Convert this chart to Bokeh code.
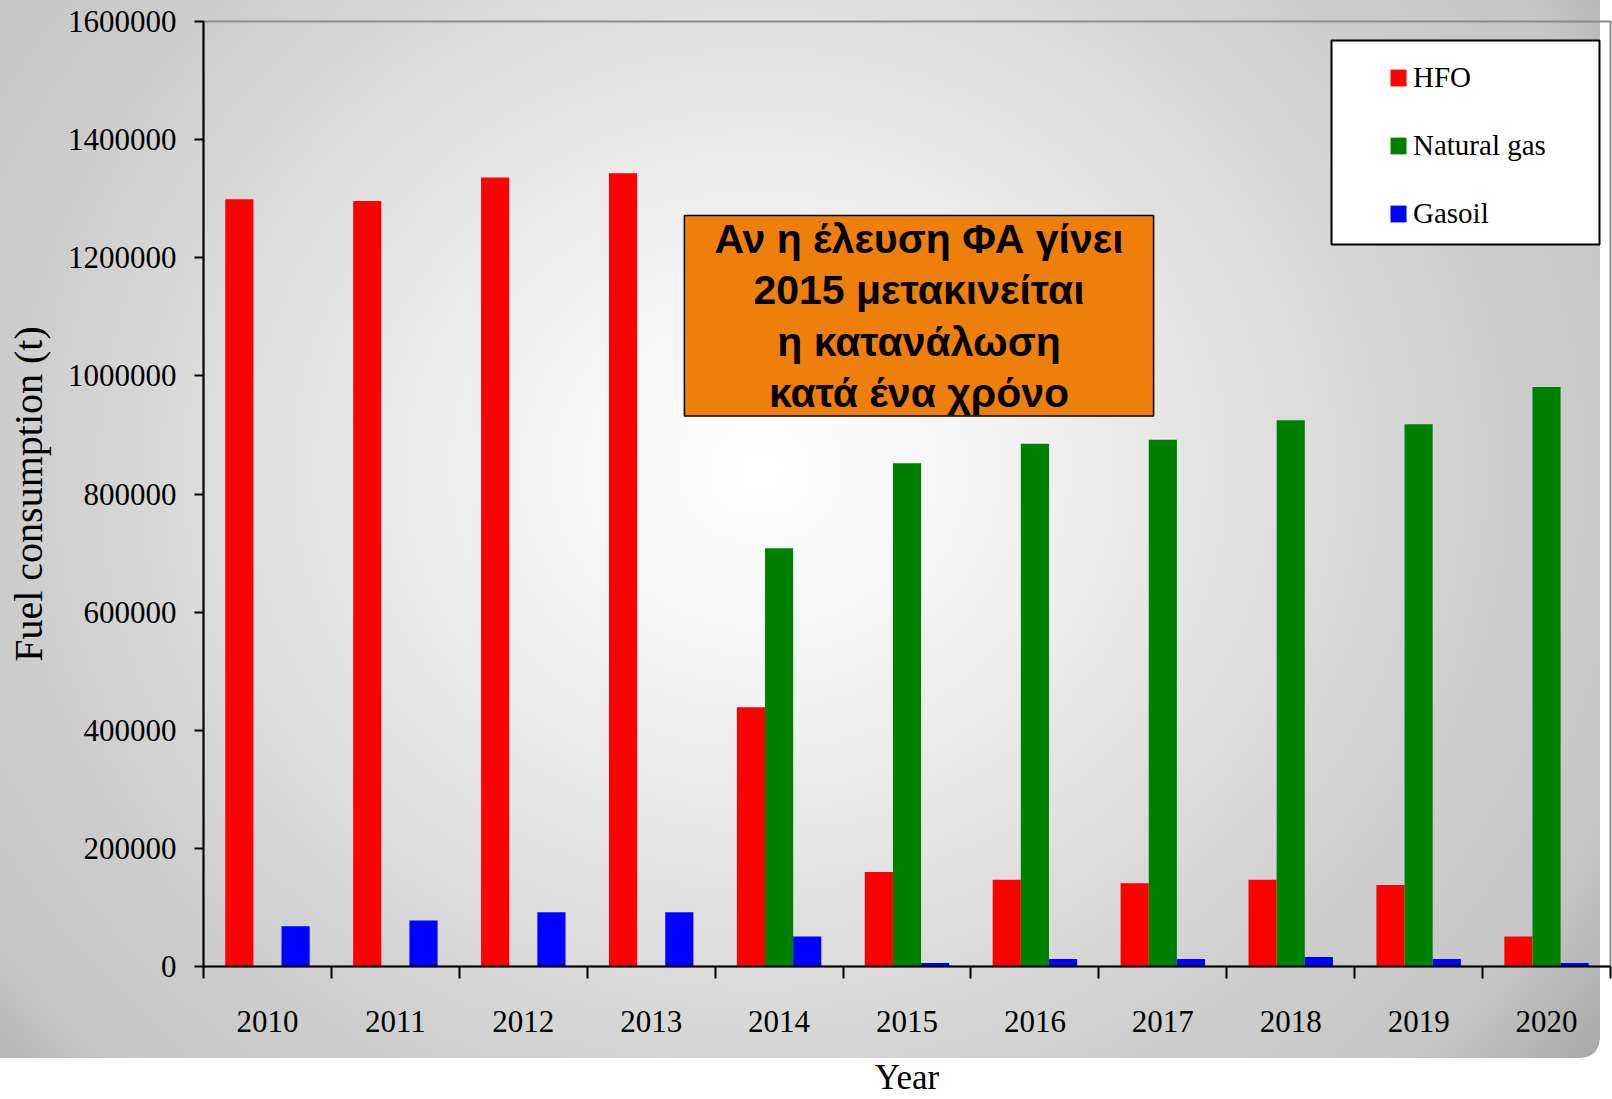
import numpy as np
from bokeh.plotting import figure
from bokeh.models import (ColumnDataSource, FixedTicker, Legend, LegendItem, Label,
                          BoxAnnotation, Range1d, BasicTickFormatter)
from bokeh.transform import dodge
from bokeh.embed import file_html
from bokeh.resources import INLINE

# ---- data ----
years = ["2010", "2011", "2012", "2013", "2014", "2015", "2016", "2017", "2018", "2019", "2020"]
hfo = [1299000, 1296000, 1336000, 1343000, 439000, 160000, 147000, 141000, 147000, 138000, 51000]
natural_gas = [0, 0, 0, 0, 708000, 852000, 885000, 892000, 925000, 918000, 981000]
gasoil = [68000, 78000, 92000, 92000, 51000, 6000, 12500, 12500, 16000, 12500, 6000]
y_ticks = [0, 200000, 400000, 600000, 800000, 1000000, 1200000, 1400000, 1600000]
series_names = ["HFO", "Natural gas", "Gasoil"]
x_title = "Year"
y_title = "Fuel consumption (t)"
note_text = "Αν η έλευση ΦΑ γίνει\n2015 μετακινείται\nη κατανάλωση\nκατά ένα χρόνο"

x = np.arange(len(years)) + 0.5
src = ColumnDataSource(dict(x=x, hfo=hfo, gas=natural_gas, gasoil=gasoil))

W, H = 1612, 1099
p = figure(width=W, height=H, output_backend="svg", toolbar_location=None,
           x_range=Range1d(0, len(years)), y_range=Range1d(0, y_ticks[-1]),
           min_border_left=203, min_border_right=2, min_border_top=21, min_border_bottom=133,
           border_fill_color=None, background_fill_color=None,
           outline_line_color="#8c8c8c", outline_line_width=2)

p.styles = {
    "background-color": "#ffffff",
    "background-image": ("radial-gradient(circle at 0px 0px, rgba(255,255,255,0) 17px, #ffffff 18px), "
                         "radial-gradient(ellipse 1000px 900px at 760px 470px, #ffffff 0%, #f2f2f2 25%, "
                         "#e0e0e0 50%, #cdcdcd 75%, #c6c6c6 92%, #b6b6b6 100%, #a8a8a8 106%)"),
    "background-size": "18px 18px, 1600px 1058px",
    "background-position": "1582px 1040px, 0px 0px",
    "background-repeat": "no-repeat, no-repeat",
}

p.xgrid.visible = False
p.ygrid.visible = False

bw = 0.22
r_h = p.vbar(x=dodge("x", -bw, range=p.x_range), top="hfo", width=bw, source=src,
             fill_color="#ff0000", line_color=None)
r_g = p.vbar(x=dodge("x", 0.0, range=p.x_range), top="gas", width=bw, source=src,
             fill_color="#008000", line_color=None)
r_b = p.vbar(x=dodge("x", bw, range=p.x_range), top="gasoil", width=bw, source=src,
             fill_color="#0000ff", line_color=None)

# x axis: labels at category centres, ticks at category boundaries
xa = p.xaxis[0]
xa.ticker = FixedTicker(ticks=list(x), minor_ticks=list(range(len(years) + 1)))
xa.major_label_overrides = {float(v): yr for v, yr in zip(x, years)}
xa.major_tick_line_color = None
xa.major_tick_out = 12
xa.major_tick_in = 0
xa.minor_tick_line_color = "black"
xa.minor_tick_line_width = 2
xa.minor_tick_out = 12
xa.minor_tick_in = 0
xa.axis_line_color = "black"
xa.axis_line_width = 2
xa.major_label_standoff = 32
xa.major_label_text_font = "Liberation Serif"
xa.major_label_text_font_size = "31px"
xa.major_label_text_color = "black"
xa.axis_label = x_title
xa.axis_label_text_font = "Liberation Serif"
xa.axis_label_text_font_style = "normal"
xa.axis_label_text_font_size = "35px"
xa.axis_label_text_color = "black"
xa.axis_label_standoff = 23

ya = p.yaxis[0]
ya.ticker = FixedTicker(ticks=y_ticks)
ya.formatter = BasicTickFormatter(use_scientific=False)
ya.major_tick_out = 9
ya.major_tick_in = 0
ya.major_tick_line_width = 2
ya.major_tick_line_color = "black"
ya.minor_tick_line_color = None
ya.axis_line_color = "black"
ya.axis_line_width = 2
ya.major_label_standoff = 18
ya.major_label_text_font = "Liberation Serif"
ya.major_label_text_font_size = "31px"
ya.major_label_text_color = "black"
ya.axis_label = y_title
ya.axis_label_text_font = "Liberation Serif"
ya.axis_label_text_font_style = "normal"
ya.axis_label_text_font_size = "40px"
ya.axis_label_text_color = "black"
ya.axis_label_standoff = 14

# legend box
box = BoxAnnotation(left=1128, right=1396, bottom=722, top=926,
                    left_units="screen", right_units="screen",
                    top_units="screen", bottom_units="screen",
                    fill_color="#ffffff", fill_alpha=1.0,
                    line_color="black", line_width=2, line_alpha=1.0)
p.add_layout(box)

legend = Legend(items=[LegendItem(label=series_names[0], renderers=[r_h]),
                       LegendItem(label=series_names[1], renderers=[r_g]),
                       LegendItem(label=series_names[2], renderers=[r_b])],
                location=(1185, 733), border_line_color=None, background_fill_alpha=0,
                padding=10, spacing=28, glyph_width=20, glyph_height=21, label_height=40,
                label_standoff=5, label_text_font="Liberation Serif",
                label_text_font_size="29px", label_text_color="black", margin=0)
p.add_layout(legend)

note = Label(x=715.5, y=650.7, x_units="screen", y_units="screen", text=note_text,
             text_align="center", text_baseline="middle",
             text_font="Liberation Sans", text_font_style="bold", text_font_size="41px",
             text_color="black", text_line_height=1.12,
             background_fill_color="#ef7f0b", border_line_color="black", border_line_width=1.5,
             padding=dict(left=30, right=30, top=0, bottom=0))
p.add_layout(note)

open("out.html", "w").write(file_html(p, INLINE))
